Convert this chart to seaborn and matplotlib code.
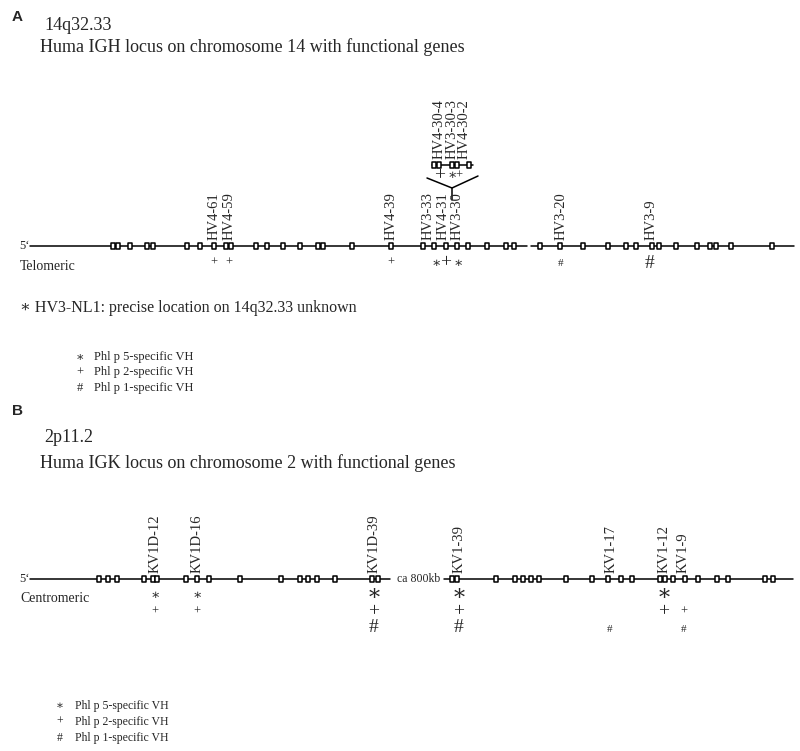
"""
Recreation of the IGH / IGK locus diagram (Phl p-specific V genes).
Writes out.png (800 x 751 px).
"""

import matplotlib
matplotlib.use("Agg")
import matplotlib.pyplot as plt
from matplotlib.path import Path
from matplotlib.markers import MarkerStyle
import seaborn as sns


# ---------------------------------------------------------------------------
# DATA  (positions read along each locus, in picture units)
# ---------------------------------------------------------------------------
# Panel A: IGH locus, chromosome 14
igh_boxes = [113, 118, 130, 147, 153, 187, 200, 214, 226, 231, 256, 267,
             283, 300, 318, 323, 352, 391, 423, 434, 446, 457, 468, 487,
             506, 514, 540, 560, 583, 608, 626, 636, 652, 659, 676, 697,
             710, 716, 731, 772]
igh_dup_boxes = [434, 439, 452, 457, 469]        # duplicated HV4-30 cluster
igh_genes = ["HV4-61", "HV4-59", "HV4-39", "HV3-33", "HV4-31", "HV3-30",
             "HV3-20", "HV3-9"]
igh_gene_pos = [214, 229, 391, 428, 443, 457, 561, 651]
igh_dup_genes = ["HV4-30-4", "HV3-30-3", "HV4-30-2"]
igh_dup_pos = [439, 452, 464]

# specificity marks under the IGH genes: (position, symbol, big?)
igh_mark_pos = [214, 229, 391, 436, 446, 458, 561, 650]
igh_mark_sym = ["+", "+", "+", "∗", "+", "∗", "#", "#"]
igh_mark_big = [False, False, False, False, True, False, False, True]
igh_dup_mark_pos = [440, 452, 459]
igh_dup_mark_sym = ["+", "∗", "+"]
igh_dup_mark_big = [True, False, False]

# Panel B: IGK locus, chromosome 2
igk_boxes = [99, 108, 117, 144, 153, 157, 186, 197, 209, 240, 281, 300,
             308, 317, 335, 372, 378,
             452, 457, 496, 515, 523, 531, 539, 566, 592, 608, 621, 632,
             660, 665, 673, 685, 698, 717, 728, 765, 773]
igk_genes = ["KV1D-12", "KV1D-16", "KV1D-39", "KV1-39", "KV1-17", "KV1-12",
             "KV1-9"]
igk_gene_pos = [155, 197, 374, 459, 611, 664, 683]

# marks under the IGK genes: (position, symbol, big?)
igk_mark_pos = [155, 155, 197, 197, 374, 374, 374, 459, 459, 459, 610,
                664, 664, 684, 684]
igk_mark_sym = ["∗", "+", "∗", "+", "∗", "+", "#", "∗", "+", "#", "#",
                "∗", "+", "+", "#"]
igk_mark_big = [False, False, False, False, True, True, True, True, True,
                True, False, True, True, False, False]

legend_sym = ["∗", "+", "#"]
legend_txt = ["Phl p 5-specific VH", "Phl p 2-specific VH",
              "Phl p 1-specific VH"]


# ---------------------------------------------------------------------------
# SETUP
# ---------------------------------------------------------------------------
sns.set_theme(style="white")
SERIF = ["Liberation Serif", "DejaVu Serif"]
plt.rcParams["font.family"] = SERIF

fig = plt.figure(figsize=(8.0, 7.51), dpi=100)
ax = fig.add_axes([0, 0, 1, 1])
ax.set_xlim(0, 800)
ax.set_ylim(751, 0)
ax.axis("off")

# small open rectangle used for every V gene segment
box = MarkerStyle(Path([(-0.27, -0.5), (0.27, -0.5), (0.27, 0.5),
                        (-0.27, 0.5), (-0.27, -0.5)],
                       [Path.MOVETO, Path.LINETO, Path.LINETO,
                        Path.LINETO, Path.CLOSEPOLY]))


def draw_boxes(xs, y):
    sns.scatterplot(x=xs, y=[y] * len(xs), marker=box, s=22, color="white",
                    edgecolor="black", linewidth=1.1, ax=ax, zorder=3,
                    legend=False)


def mark(x, y, sym, big):
    size = {"+": (9, 14), "∗": (10, 16), "#": (8, 14)}[sym]
    ax.text(x, y, sym, fontsize=size[1] if big else size[0],
            ha="center", va="center", family=SERIF)


# ---------------------------------------------------------------------------
# PANEL A
# ---------------------------------------------------------------------------
YA = 246
ax.text(12, 17, "A", fontsize=11, fontweight="bold",
        family=["Liberation Sans"], va="center")
ax.text(44, 30, "14q32.33", fontsize=13, va="baseline")
ax.text(40, 52, "Huma IGH locus on chromosome 14 with functional genes",
        fontsize=13, va="baseline")

ax.plot([30, 527], [YA, YA], color="black", lw=1.1, zorder=2)
ax.plot([531, 794], [YA, YA], color="black", lw=1.1, zorder=2)
draw_boxes(igh_boxes, YA)
ax.text(19, YA, "5‘", fontsize=9, va="center")
ax.text(20, 266, "Telomeric", fontsize=10, va="center")

for name, x in zip(igh_genes, igh_gene_pos):
    ax.text(x, YA - 6, name, rotation=90, fontsize=10.5, ha="center",
            va="bottom")

# duplicated cluster above the V split
YD = 165
ax.plot([432, 473], [YD, YD], color="black", lw=1.1, zorder=2)
draw_boxes(igh_dup_boxes, YD)
for name, x in zip(igh_dup_genes, igh_dup_pos):
    ax.text(x, YD - 6, name, rotation=90, fontsize=10.5, ha="center",
            va="bottom")
ax.plot([427, 452, 478], [178, 188, 176], color="black", lw=1.1)
ax.plot([452, 452], [188, 200], color="black", lw=1.1)
for x, s, b in zip(igh_dup_mark_pos, igh_dup_mark_sym, igh_dup_mark_big):
    mark(x, 176, s, b)

for x, s, b in zip(igh_mark_pos, igh_mark_sym, igh_mark_big):
    mark(x, 263, s, b)

ax.text(20, 308, "∗ HV3-NL1: precise location on 14q32.33 unknown",
        fontsize=11.5, va="center")

for i, (s, t) in enumerate(zip(legend_sym, legend_txt)):
    ax.text(80, 357 + 15.5 * i, s, fontsize=9, ha="center", va="center")
    ax.text(94, 357 + 15.5 * i, t, fontsize=9, va="center")


# ---------------------------------------------------------------------------
# PANEL B
# ---------------------------------------------------------------------------
YB = 579
ax.text(12, 411, "B", fontsize=11, fontweight="bold",
        family=["Liberation Sans"], va="center")
ax.text(44, 442, "2p11.2", fontsize=13, va="baseline")
ax.text(40, 468, "Huma IGK locus on chromosome 2 with functional genes",
        fontsize=13, va="baseline")

ax.plot([30, 390], [YB, YB], color="black", lw=1.1, zorder=2)
ax.plot([444, 793], [YB, YB], color="black", lw=1.1, zorder=2)
draw_boxes(igk_boxes, YB)
ax.text(19, YB, "5‘", fontsize=9, va="center")
ax.text(20, 598, "Centromeric", fontsize=10, va="center")
ax.text(397, YB, "ca 800kb", fontsize=8.5, va="center")

for name, x in zip(igk_genes, igk_gene_pos):
    ax.text(x, YB - 6, name, rotation=90, fontsize=10.5, ha="center",
            va="bottom")

rows = {"∗": 595, "+": 612, "#": 628}
for x, s, b in zip(igk_mark_pos, igk_mark_sym, igk_mark_big):
    y = rows[s] + (2 if (s == "#" and not b) else 0)
    mark(x, y, s, b)

for i, (s, t) in enumerate(zip(legend_sym, legend_txt)):
    ax.text(60, 706 + 16 * i, s, fontsize=8.5, ha="center", va="center")
    ax.text(75, 706 + 16 * i, t, fontsize=8.5, va="center")

fig.savefig("out.png", dpi=100)
